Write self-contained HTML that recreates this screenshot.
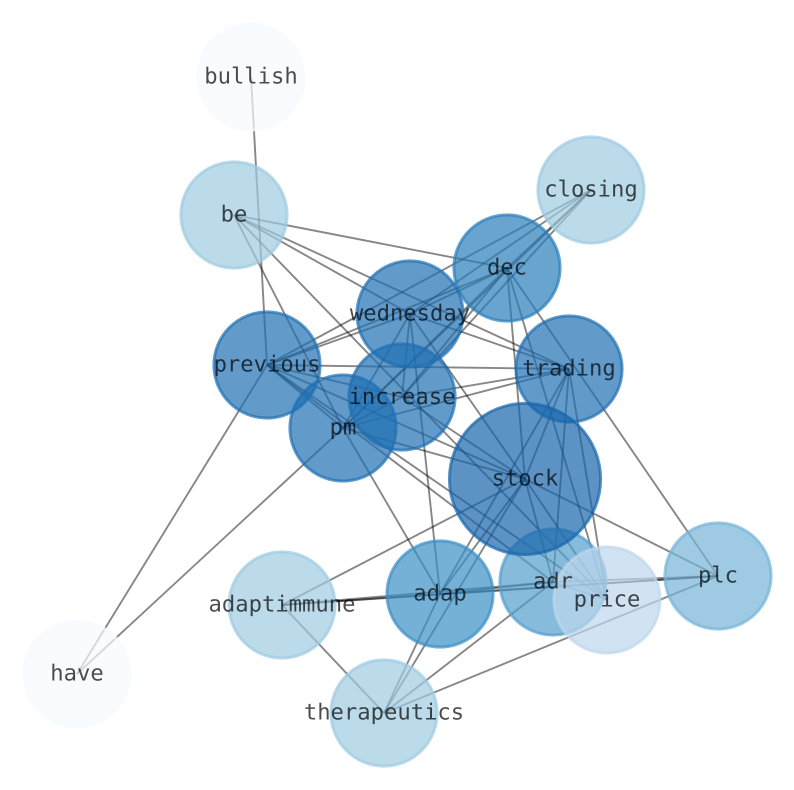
<!DOCTYPE html>
<html><head><meta charset="utf-8"><style>
html,body{margin:0;padding:0;background:#fff}
svg{display:block}
text{font-family:"DejaVu Sans Mono","Liberation Mono",monospace;font-size:22.2px;text-anchor:middle;fill:#000;fill-opacity:.7;text-rendering:geometricPrecision}
circle{stroke-width:3;fill-opacity:.7;stroke-opacity:.7}
</style></head><body>
<svg width="794" height="790" viewBox="0 0 794 790" xmlns="http://www.w3.org/2000/svg">
<g stroke="#000" stroke-opacity=".47" stroke-width="1.9" fill="none">
<line x1="251" y1="77" x2="267" y2="365"/>
<line x1="234" y1="215" x2="507" y2="268"/>
<line x1="234" y1="215" x2="410" y2="314"/>
<line x1="234" y1="215" x2="569" y2="369"/>
<line x1="234" y1="215" x2="607" y2="600"/>
<line x1="234" y1="215" x2="343" y2="428"/>
<line x1="591" y1="190" x2="267" y2="365"/>
<line x1="591" y1="190" x2="410" y2="314"/>
<line x1="591" y1="190" x2="507" y2="268"/>
<line x1="591" y1="190" x2="402" y2="397"/>
<line x1="591" y1="190" x2="343" y2="428"/>
<line x1="507" y1="268" x2="410" y2="314"/>
<line x1="507" y1="268" x2="267" y2="365"/>
<line x1="507" y1="268" x2="402" y2="397"/>
<line x1="507" y1="268" x2="343" y2="428"/>
<line x1="507" y1="268" x2="525" y2="479"/>
<line x1="507" y1="268" x2="607" y2="600"/>
<line x1="507" y1="268" x2="718" y2="576"/>
<line x1="410" y1="314" x2="267" y2="365"/>
<line x1="410" y1="314" x2="402" y2="397"/>
<line x1="410" y1="314" x2="343" y2="428"/>
<line x1="410" y1="314" x2="569" y2="369"/>
<line x1="410" y1="314" x2="525" y2="479"/>
<line x1="410" y1="314" x2="440" y2="594"/>
<line x1="267" y1="365" x2="569" y2="369"/>
<line x1="267" y1="365" x2="402" y2="397"/>
<line x1="267" y1="365" x2="343" y2="428"/>
<line x1="267" y1="365" x2="525" y2="479"/>
<line x1="267" y1="365" x2="553" y2="582"/>
<line x1="267" y1="365" x2="607" y2="600"/>
<line x1="267" y1="365" x2="77" y2="674"/>
<line x1="569" y1="369" x2="402" y2="397"/>
<line x1="569" y1="369" x2="343" y2="428"/>
<line x1="569" y1="369" x2="525" y2="479"/>
<line x1="569" y1="369" x2="440" y2="594"/>
<line x1="569" y1="369" x2="553" y2="582"/>
<line x1="569" y1="369" x2="607" y2="600"/>
<line x1="402" y1="397" x2="343" y2="428"/>
<line x1="402" y1="397" x2="525" y2="479"/>
<line x1="343" y1="428" x2="525" y2="479"/>
<line x1="343" y1="428" x2="77" y2="674"/>
<line x1="343" y1="428" x2="440" y2="594"/>
<line x1="525" y1="479" x2="553" y2="582"/>
<line x1="525" y1="479" x2="607" y2="600"/>
<line x1="525" y1="479" x2="718" y2="576"/>
<line x1="525" y1="479" x2="440" y2="594"/>
<line x1="525" y1="479" x2="282" y2="605"/>
<line x1="525" y1="479" x2="384" y2="713"/>
<line x1="553" y1="582" x2="607" y2="600"/>
<line x1="553" y1="582" x2="718" y2="576"/>
<line x1="553" y1="582" x2="440" y2="594"/>
<line x1="553" y1="582" x2="282" y2="605"/>
<line x1="553" y1="582" x2="384" y2="713"/>
<line x1="718" y1="576" x2="440" y2="594"/>
<line x1="718" y1="576" x2="282" y2="605"/>
<line x1="718" y1="576" x2="384" y2="713"/>
<line x1="440" y1="594" x2="282" y2="605"/>
<line x1="440" y1="594" x2="384" y2="713"/>
<line x1="282" y1="605" x2="384" y2="713"/>
</g>
<g>
<circle cx="251" cy="77" r="53.1" fill="#f7fbff" stroke="#f7fbff"/>
<circle cx="77" cy="674" r="53.1" fill="#f7fbff" stroke="#f7fbff"/>
<circle cx="234" cy="215" r="53.1" fill="#9ecae1" stroke="#9ecae1"/>
<circle cx="591" cy="190" r="53.1" fill="#9ecae1" stroke="#9ecae1"/>
<circle cx="282" cy="605" r="53.1" fill="#9ecae1" stroke="#9ecae1"/>
<circle cx="384" cy="713" r="53.1" fill="#9ecae1" stroke="#9ecae1"/>
<circle cx="718" cy="576" r="53.1" fill="#76b3d8" stroke="#76b3d8"/>
<circle cx="553" cy="582" r="53.1" fill="#539ecd" stroke="#539ecd"/>
<circle cx="440" cy="594" r="53.1" fill="#3b8ec4" stroke="#3b8ec4"/>
<circle cx="507" cy="268" r="53.1" fill="#2a7dba" stroke="#2a7dba"/>
<circle cx="410" cy="314" r="53.1" fill="#1f6fb3" stroke="#1f6fb3"/>
<circle cx="267" cy="365" r="53.1" fill="#1f6fb3" stroke="#1f6fb3"/>
<circle cx="569" cy="369" r="53.1" fill="#1f6fb3" stroke="#1f6fb3"/>
<circle cx="402" cy="397" r="53.1" fill="#1f6fb3" stroke="#1f6fb3"/>
<circle cx="343" cy="428" r="53.1" fill="#1f6fb3" stroke="#1f6fb3"/>
<circle cx="525" cy="479" r="75.6" fill="#1765ab" stroke="#1765ab"/>
<circle cx="607" cy="600" r="53.1" fill="#bdd7ec" stroke="#bdd7ec"/>
</g>
<g>
<text x="251" y="83.5">bullish</text>
<text x="591" y="196.5">closing</text>
<text x="234" y="221.5">be</text>
<text x="507" y="274.5">dec</text>
<text x="410" y="320.5">wednesday</text>
<text x="267" y="371.5">previous</text>
<text x="569" y="375.5">trading</text>
<text x="402" y="404">increase</text>
<text x="343" y="434.5">pm</text>
<text x="525" y="485.5">stock</text>
<text x="553" y="588.5">adr</text>
<text x="607" y="606.5">price</text>
<text x="718" y="582.5">plc</text>
<text x="440" y="600.5">adap</text>
<text x="282" y="611.5">adaptimmune</text>
<text x="384" y="719.5">therapeutics</text>
<text x="77" y="680.5">have</text>
</g>
</svg>
</body></html>
